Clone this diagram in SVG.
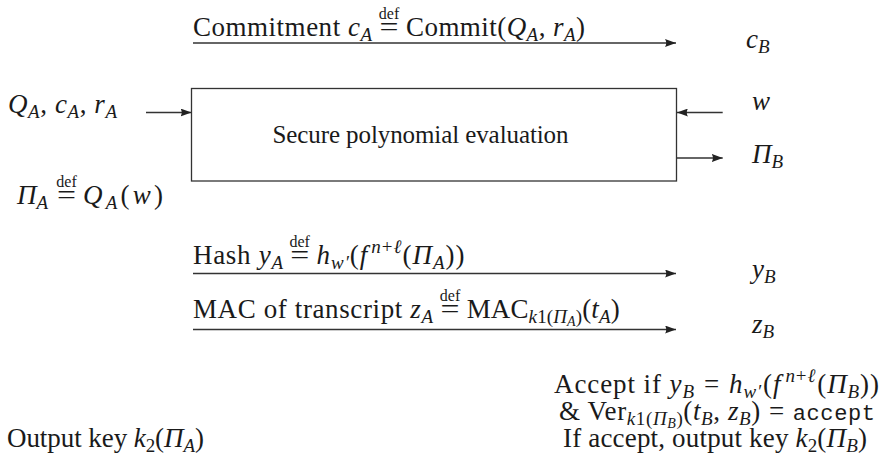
<svg xmlns="http://www.w3.org/2000/svg" width="881" height="462" viewBox="0 0 881 462">
  <style>
    .t { font-family: "Liberation Serif", serif; font-size: 27px; fill: #1a1a1a; }
    .i { font-style: italic; }
    .s { font-size: 19px; font-style: italic; }
    .sn { font-size: 19px; font-style: normal; }
    .ss { font-size: 14px; font-style: italic; }
    .d { font-family: "Liberation Serif", serif; font-size: 16px; fill: #1a1a1a; }
    .m { font-family: "Liberation Mono", monospace; font-size: 22px; }
    .ln { fill: none; stroke: #333; stroke-width: 1.3; }
    .box { fill: #fff; stroke: #333; stroke-width: 1.3; }
  </style>
  <defs>
    <marker id="ah" markerUnits="userSpaceOnUse" markerWidth="12" markerHeight="8" refX="11" refY="4" orient="auto">
      <path d="M0,0 L11,4 L0,8 Q2.5,4 0,0 z" fill="#222"/>
    </marker>
  </defs>

  <rect width="881" height="462" fill="#fff"/>

  <!-- connectors -->
  <g id="connectors">
    <path class="ln" d="M193,43 H676" marker-end="url(#ah)"/>
    <path class="ln" d="M146,112.5 H191.5" marker-end="url(#ah)"/>
    <path class="ln" d="M722.7,112.5 H677" marker-end="url(#ah)"/>
    <path class="ln" d="M677,158 H722.7" marker-end="url(#ah)"/>
    <path class="ln" d="M193,273.5 H676" marker-end="url(#ah)"/>
    <path class="ln" d="M193,329.5 H676" marker-end="url(#ah)"/>
  </g>

  <!-- central protocol box -->
  <g id="spe">
    <rect class="box" x="191.5" y="88.5" width="485" height="92.5"/>
    <text class="t" x="420.5" y="143" text-anchor="middle" style="font-size:25px" textLength="296" lengthAdjust="spacing">Secure polynomial evaluation</text>
  </g>

  <!-- commitment message -->
  <g id="commit-label">
    <text class="t" x="193" y="36" textLength="179" lengthAdjust="spacing">Commitment <tspan class="i">c</tspan><tspan class="s" dy="5">A</tspan></text>
    <text class="d" x="389" y="19" text-anchor="middle">def</text>
    <text class="t" x="389" y="36" text-anchor="middle" textLength="19" lengthAdjust="spacingAndGlyphs">=</text>
    <text class="t" x="406" y="36" textLength="179" lengthAdjust="spacing">Commit(<tspan class="i">Q</tspan><tspan class="s" dy="5">A</tspan><tspan dy="-5">, </tspan><tspan class="i">r</tspan><tspan class="s" dy="5">A</tspan><tspan dy="-5">)</tspan></text>
  </g>
  <g id="cB">
    <text class="t" x="746" y="48"><tspan class="i">c</tspan><tspan class="s" dy="5">B</tspan></text>
  </g>

  <!-- Alice inputs -->
  <g id="alice-in">
    <text class="t" x="8" y="113" textLength="109" lengthAdjust="spacing"><tspan class="i">Q</tspan><tspan class="s" dy="5">A</tspan><tspan dy="-5">, </tspan><tspan class="i">c</tspan><tspan class="s" dy="5">A</tspan><tspan dy="-5">, </tspan><tspan class="i">r</tspan><tspan class="s" dy="5">A</tspan></text>
  </g>
  <g id="w">
    <text class="t i" x="752" y="110">w</text>
  </g>
  <g id="piB">
    <text class="t" x="752" y="163"><tspan class="i">Π</tspan><tspan class="s" dy="5">B</tspan></text>
  </g>
  <g id="piA">
    <text class="t" x="17" y="204"><tspan class="i">Π</tspan><tspan class="s" dy="5">A</tspan></text>
    <text class="d" x="66.5" y="187" text-anchor="middle">def</text>
    <text class="t" x="66.5" y="204" text-anchor="middle" textLength="19" lengthAdjust="spacingAndGlyphs">=</text>
    <text class="t" x="83" y="204" textLength="80" lengthAdjust="spacing"><tspan class="i">Q</tspan><tspan class="s" dy="5">A</tspan><tspan dy="-5">(</tspan><tspan class="i">w</tspan>)</text>
  </g>

  <!-- hash message -->
  <g id="hash-label">
    <text class="t" x="193" y="264" textLength="90" lengthAdjust="spacing">Hash <tspan class="i">y</tspan><tspan class="s" dy="5">A</tspan></text>
    <text class="d" x="299.7" y="247" text-anchor="middle">def</text>
    <text class="t" x="299.7" y="264" text-anchor="middle" textLength="19" lengthAdjust="spacingAndGlyphs">=</text>
    <text class="t" x="316.5" y="264" textLength="148" lengthAdjust="spacing"><tspan class="i">h</tspan><tspan class="s" dy="5">w′</tspan><tspan dy="-5">(</tspan><tspan class="i">f</tspan><tspan class="s" dy="-11" dx="3">n</tspan><tspan class="sn">+</tspan><tspan class="s">ℓ</tspan><tspan dy="11">(</tspan><tspan class="i">Π</tspan><tspan class="s" dy="5">A</tspan><tspan dy="-5">))</tspan></text>
  </g>
  <g id="yB">
    <text class="t" x="752" y="278"><tspan class="i">y</tspan><tspan class="s" dy="5">B</tspan></text>
  </g>

  <!-- MAC message -->
  <g id="mac-label">
    <text class="t" x="193" y="318" textLength="240" lengthAdjust="spacing">MAC of transcript <tspan class="i">z</tspan><tspan class="s" dy="5">A</tspan></text>
    <text class="d" x="450" y="301" text-anchor="middle">def</text>
    <text class="t" x="450" y="318" text-anchor="middle" textLength="19" lengthAdjust="spacingAndGlyphs">=</text>
    <text class="t" x="466.7" y="318" textLength="153" lengthAdjust="spacing">MAC<tspan class="s" dy="5">k</tspan><tspan class="sn">1</tspan><tspan class="sn">(</tspan><tspan class="s">Π</tspan><tspan class="ss" dy="3">A</tspan><tspan class="sn" dy="-3">)</tspan><tspan dy="-5">(</tspan><tspan class="i">t</tspan><tspan class="s" dy="5">A</tspan><tspan dy="-5">)</tspan></text>
  </g>
  <g id="zB">
    <text class="t" x="752" y="333"><tspan class="i">z</tspan><tspan class="s" dy="5">B</tspan></text>
  </g>

  <!-- Bob verification -->
  <g id="bob-check">
    <text class="t" x="716.5" y="393" text-anchor="middle" textLength="325" lengthAdjust="spacing">Accept if <tspan class="i">y</tspan><tspan class="s" dy="5">B</tspan><tspan dy="-5" dx="9">=</tspan><tspan class="i" dx="9">h</tspan><tspan class="s" dy="5">w′</tspan><tspan dy="-5" dx="1">(</tspan><tspan class="i">f</tspan><tspan class="s" dy="-11" dx="4">n</tspan><tspan class="sn">+</tspan><tspan class="s">ℓ</tspan><tspan dy="11" dx="1">(</tspan><tspan class="i">Π</tspan><tspan class="s" dy="5">B</tspan><tspan dy="-5">))</tspan></text>
    <text class="t" x="717" y="420" text-anchor="middle" textLength="316" lengthAdjust="spacing">&amp; Ver<tspan class="s" dy="5">k</tspan><tspan class="sn">1</tspan><tspan class="sn">(</tspan><tspan class="s">Π</tspan><tspan class="ss" dy="3">B</tspan><tspan class="sn" dy="-3">)</tspan><tspan dy="-5">(</tspan><tspan class="i">t</tspan><tspan class="s" dy="5">B</tspan><tspan dy="-5">, </tspan><tspan class="i">z</tspan><tspan class="s" dy="5">B</tspan><tspan dy="-5">)</tspan><tspan dx="8">=</tspan><tspan class="m" dx="8">accept</tspan></text>
    <text class="t" x="715" y="447" text-anchor="middle" textLength="304" lengthAdjust="spacing">If accept, output key <tspan class="i">k</tspan><tspan class="sn" dy="5">2</tspan><tspan dy="-5">(</tspan><tspan class="i">Π</tspan><tspan class="s" dy="5">B</tspan><tspan dy="-5">)</tspan></text>
  </g>

  <!-- Alice output -->
  <g id="alice-out">
    <text class="t" x="7" y="447" textLength="197" lengthAdjust="spacing">Output key <tspan class="i">k</tspan><tspan class="sn" dy="5">2</tspan><tspan dy="-5">(</tspan><tspan class="i">Π</tspan><tspan class="s" dy="5">A</tspan><tspan dy="-5">)</tspan></text>
  </g>
</svg>
